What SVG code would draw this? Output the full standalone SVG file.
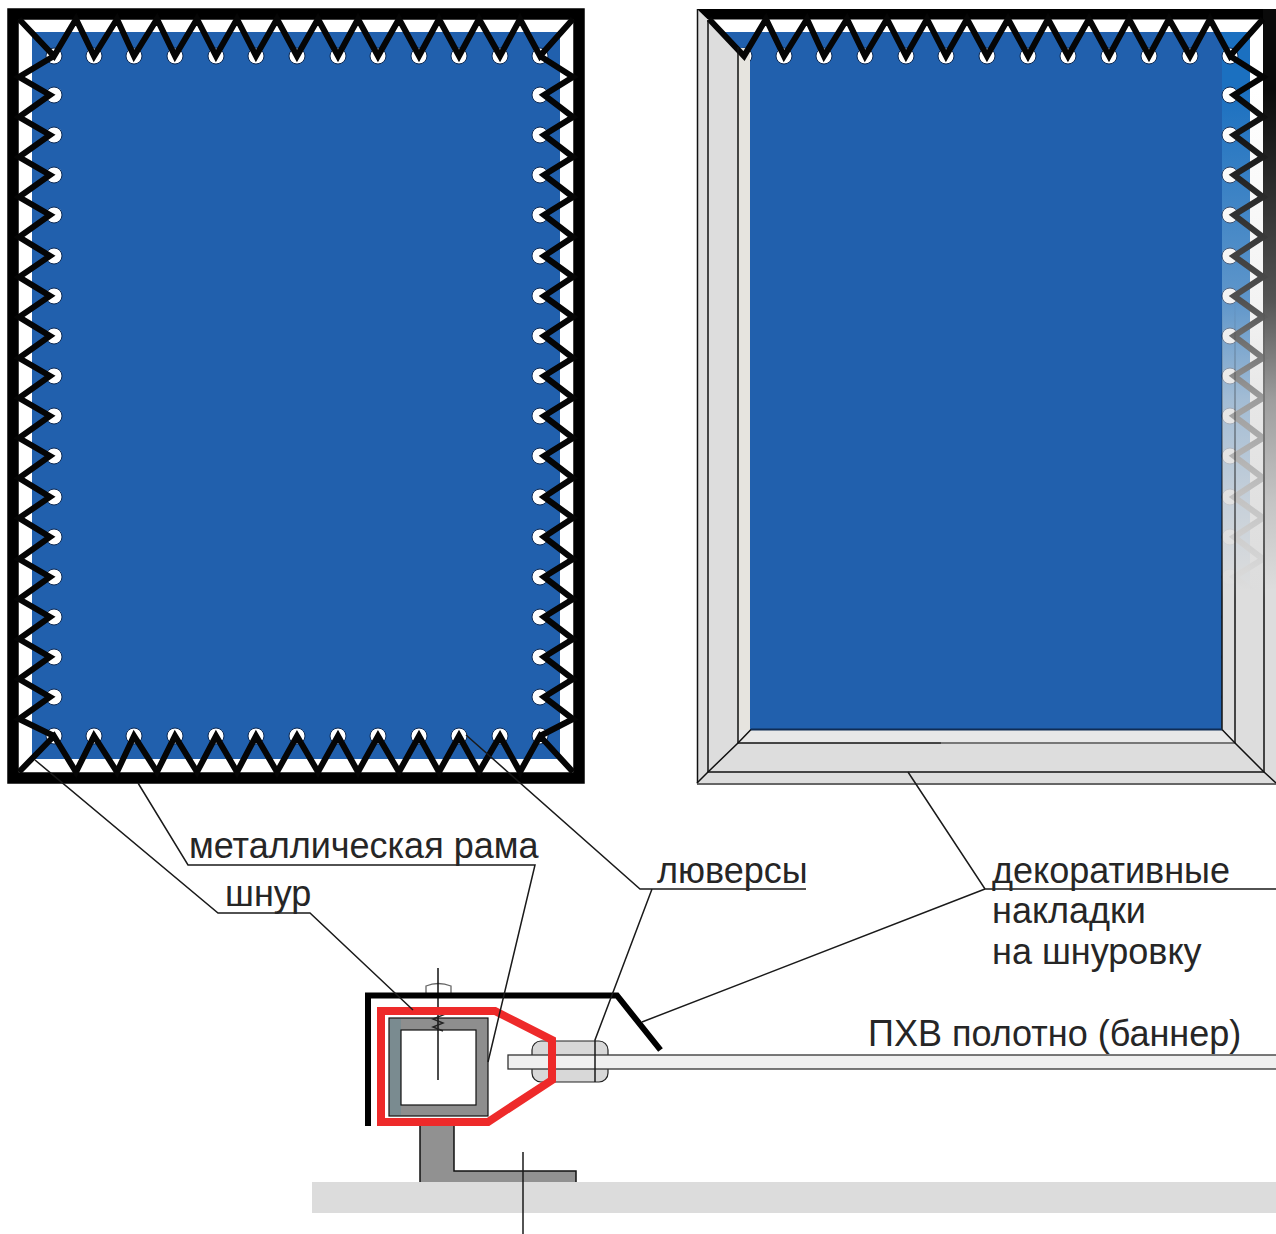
<svg xmlns="http://www.w3.org/2000/svg" xmlns:xlink="http://www.w3.org/1999/xlink" width="1276" height="1234" viewBox="0 0 1276 1234">
<style>
text{font-family:"Liberation Sans",Arial,sans-serif;font-size:36px;fill:#262626}
.lace{fill:none;stroke:#050505;stroke-width:6;stroke-linejoin:miter}
.thin{fill:none;stroke:#1a1a1a;stroke-width:1.5}
.ln{fill:none;stroke:#111;stroke-width:1.5}
.eye{fill:#fff;stroke:#0d2a55;stroke-width:1}
.blue{fill:#2160ad}
.trim{fill:#dddddd}
</style>
<defs>
<circle id="e" r="8" class="eye"/>
<g id="eyes-top">
<use xlink:href="#e" x="54" y="56"/><use xlink:href="#e" x="94" y="56"/><use xlink:href="#e" x="134" y="56"/><use xlink:href="#e" x="175" y="56"/><use xlink:href="#e" x="216" y="56"/><use xlink:href="#e" x="256" y="56"/><use xlink:href="#e" x="297" y="56"/><use xlink:href="#e" x="338" y="56"/><use xlink:href="#e" x="378" y="56"/><use xlink:href="#e" x="419" y="56"/><use xlink:href="#e" x="459" y="56"/><use xlink:href="#e" x="500" y="56"/><use xlink:href="#e" x="540" y="56"/>
</g>
<g id="eyes-side">
<use xlink:href="#e" y="95"/><use xlink:href="#e" y="135"/><use xlink:href="#e" y="175"/><use xlink:href="#e" y="215"/><use xlink:href="#e" y="256"/><use xlink:href="#e" y="296"/><use xlink:href="#e" y="336"/><use xlink:href="#e" y="376"/><use xlink:href="#e" y="416"/><use xlink:href="#e" y="456"/><use xlink:href="#e" y="497"/><use xlink:href="#e" y="537"/><use xlink:href="#e" y="577"/><use xlink:href="#e" y="617"/><use xlink:href="#e" y="657"/><use xlink:href="#e" y="697"/>
</g>
<path id="lace-top" class="lace" d="M19 19L54 56L76 19L94 56L117 19L134 56L157 19L175 56L197 19L216 56L237 19L256 56L277 19L297 56L318 19L338 56L358 19L378 56L399 19L419 56L439 19L459 56L479 19L500 56L520 19L540 56L573 19"/>
<path id="lace-right" class="lace" d="M540 56L573 77L544 95L573 117L544 135L573 157L544 175L573 197L544 215L573 237L544 256L573 277L544 296L573 317L544 336L573 358L544 376L573 398L544 416L573 438L544 456L573 478L544 497L573 518L544 537L573 559L544 577L573 599L544 617L573 639L544 657L573 679L544 697L573 719L540 736"/>
<linearGradient id="fade" gradientUnits="userSpaceOnUse" x1="0" y1="90" x2="0" y2="590">
<stop offset="0" stop-color="#dddddd" stop-opacity="0"/><stop offset=".42" stop-color="#dddddd" stop-opacity=".35"/><stop offset=".62" stop-color="#dddddd" stop-opacity=".7"/><stop offset=".82" stop-color="#dddddd" stop-opacity=".88"/><stop offset="1" stop-color="#dddddd" stop-opacity="1"/>
</linearGradient>
<linearGradient id="fadeline" gradientUnits="userSpaceOnUse" x1="0" y1="300" x2="0" y2="600">
<stop offset="0" stop-color="#111" stop-opacity="0"/><stop offset="1" stop-color="#111" stop-opacity="1"/>
</linearGradient>
</defs>
<rect width="1276" height="1234" fill="#fff"/>

<g id="panel-laced">
<rect x="13" y="14" width="566" height="764" fill="#fff"/>
<rect class="blue" x="32" y="32" width="528" height="727"/>
<rect x="13" y="14" width="566" height="764" fill="none" stroke="#000" stroke-width="11.5"/>
<use xlink:href="#eyes-top"/>
<use xlink:href="#eyes-top" y="680"/>
<use xlink:href="#eyes-side" x="54"/>
<use xlink:href="#eyes-side" x="540"/>
<use xlink:href="#lace-top"/>
<use xlink:href="#lace-right"/>
<path class="lace" d="M54 56L19 77L50 95L19 117L50 135L19 157L50 175L19 197L50 215L19 237L50 256L19 277L50 296L19 317L50 336L19 358L50 376L19 398L50 416L19 438L50 456L19 478L50 497L19 518L50 537L19 559L50 577L19 599L50 617L19 639L50 657L19 679L50 697L19 719L54 736"/>
<path class="lace" d="M19 772L54 736L76 772L94 736L117 772L134 736L157 772L175 736L197 772L216 736L237 772L256 736L277 772L297 736L318 772L338 736L358 772L378 736L399 772L419 736L439 772L459 736L479 772L500 736L520 772L540 736L573 772"/>
</g>

<g id="panel-covered">
<rect x="697" y="9" width="579" height="774" fill="#fff"/>
<rect class="blue" x="722" y="32" width="528" height="698"/>
<rect x="1222" y="32" width="28" height="698" fill="#1b70c0"/>
<rect x="697" y="9" width="579" height="10.5" fill="#000"/>
<rect x="1263" y="9" width="13" height="725" fill="#0a0a0a"/>
<use xlink:href="#eyes-top" x="690"/>
<use xlink:href="#eyes-side" x="1230"/>
<polygon class="trim" points="697,9 750,60 750,783 697,783"/>
<rect x="738" y="48" width="12" height="682" fill="#e6e4df"/>
<use xlink:href="#lace-top" x="690"/>
<use xlink:href="#lace-right" x="690"/>
<rect x="1222" y="90" width="54" height="641" fill="url(#fade)"/>
<rect class="trim" x="697" y="730" width="579" height="53"/>
<rect x="738" y="730" width="497" height="13" fill="#e8e8e8"/>
<path class="ln" d="M697.5 9V783.5M708 20V772H1264M738 47V743H941"/>
<path d="M941 743H1235" fill="none" stroke="#777" stroke-width="2"/>
<path d="M1222 300V729.5" fill="none" stroke="url(#fadeline)" stroke-width="1.5"/>
<path d="M1235 300V743" fill="none" stroke="url(#fadeline)" stroke-width="1.5"/>
<path d="M1264 300V772" fill="none" stroke="url(#fadeline)" stroke-width="1.5"/>
<path d="M697 784H1276" fill="none" stroke="#666" stroke-width="2"/>
<path class="ln" d="M697 783L708 772L738 743L751 729.5M1276 783L1264 772L1235 743L1222 729.5"/>
<path d="M751 729.5H1222" fill="none" stroke="#0f2c55" stroke-width="2"/>
</g>

<g id="section">
<rect id="floor" x="312" y="1182" width="964" height="31" fill="#dcdcdc"/>
<polygon id="bracket" points="420,1125 454,1125 454,1171 576,1171 576,1182 420,1182" fill="#919191"/>
<path class="ln" d="M420 1125V1182M454 1125V1171H576V1182"/>
<path id="bolt-head" d="M426 993V986Q438 981 451 986V993" fill="#fff" stroke="#666" stroke-width="1.3"/>
<g id="tube">
<rect x="389" y="1018" width="99" height="98" fill="#8e8e8e" stroke="#111" stroke-width="1.2"/>
<rect x="390" y="1019" width="11" height="96" fill="#7a8b90"/>
<rect x="401" y="1030" width="75" height="75" fill="#fff" stroke="#111" stroke-width="1.2"/>
</g>
<path d="M438 968V1080" class="ln"/>
<path d="M433 1011L443 1015L433 1019L443 1023L433 1027L443 1031" fill="none" stroke="#222" stroke-width="1.4"/>
<rect id="eyelet" x="532" y="1041" width="76" height="41" rx="9" fill="#d8d8d8" stroke="#222" stroke-width="1.2"/>
<rect id="banner" x="508" y="1055" width="769" height="14" fill="#f0f0f0" stroke="#333" stroke-width="1.3"/>
<polygon id="cord" points="381,1011 495,1011 552,1040 552,1080 488,1122 381,1122" fill="none" stroke="#ee2a2a" stroke-width="8"/>
<path id="cover" d="M368 1126V995.5H617L660.5 1050" fill="none" stroke="#000" stroke-width="6"/>
</g>

<g id="connectors">
<path class="thin" d="M35 760L218 913H310L413 1010"/>
<path class="thin" d="M138 783L188 865H535L488 1062"/>
<path class="thin" d="M466 735L640 889H806M652 889L595 1040V1082"/>
<path class="thin" d="M908 772L985 889H1276M985 889L642 1022"/>
<path class="thin" d="M523 1152V1234"/>
</g>

<g id="labels">
<text x="189" y="858">металлическая рама</text>
<text x="225" y="906">шнур</text>
<text x="657" y="883">люверсы</text>
<text x="992" y="883">декоративные</text>
<text x="992" y="923">накладки</text>
<text x="992" y="964">на шнуровку</text>
<text x="868" y="1046">ПХВ полотно (баннер)</text>
</g>
</svg>
